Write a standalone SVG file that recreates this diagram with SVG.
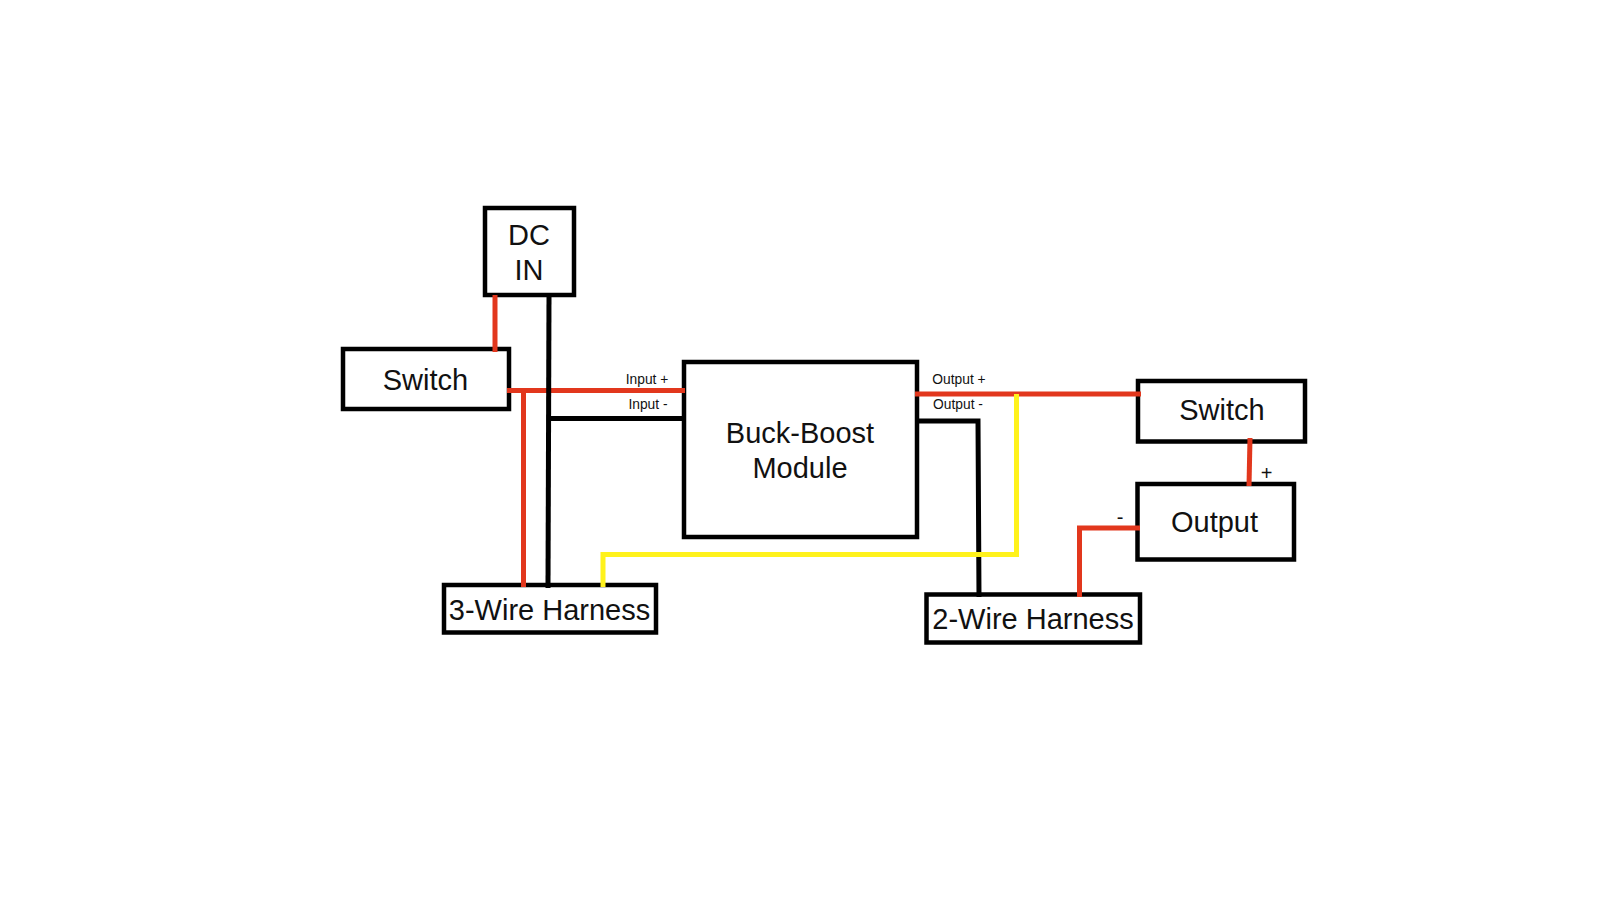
<svg xmlns="http://www.w3.org/2000/svg" width="1600" height="900" viewBox="0 0 1600 900">
<style>
.box{fill:#fff;stroke:#000;stroke-width:4.5}
text{font-family:"Liberation Sans",Arial,sans-serif;fill:#111;text-anchor:middle}
.t{font-size:29px}
.s{font-size:13.8px}
.m{font-size:20px}
.w{fill:none;stroke-width:5;stroke-linejoin:miter}
.r{stroke:#e2371d}
.k{stroke:#000}
.y{stroke:#fff21c}
</style>
<rect width="1600" height="900" fill="#fff"/>
<g id="dc-in"><rect class="box" x="485" y="208" width="89" height="87"/><text class="t" x="529" y="245">DC</text><text class="t" x="529" y="280">IN</text></g>
<g id="switch-left"><rect class="box" x="343" y="349" width="166" height="60"/><text class="t" x="425.500" y="390">Switch</text></g>
<g id="module"><rect class="box" x="684" y="362" width="233" height="175"/><text class="t" x="800" y="443">Buck-Boost</text><text class="t" x="800" y="478">Module</text></g>
<g id="harness-3"><rect class="box" x="444" y="585" width="212" height="47.500"/><text class="t" x="549.500" y="620">3-Wire Harness</text></g>
<g id="harness-2"><rect class="box" x="926.500" y="594.500" width="213.500" height="48"/><text class="t" x="1033" y="629">2-Wire Harness</text></g>
<g id="switch-right"><rect class="box" x="1138" y="381" width="167" height="60.500"/><text class="t" x="1222" y="420">Switch</text></g>
<g id="output"><rect class="box" x="1137.500" y="484" width="156.500" height="75.500"/><text class="t" x="1214.500" y="532">Output</text></g>
<g id="connectors">
<path class="w r" d="M495 295V352"/>
<path class="w r" d="M507 390.500H685"/>
<path class="w r" d="M523.500 390V587"/>
<path class="w k" d="M549 295L548 588"/>
<path class="w k" d="M547 418.500H684"/>
<path class="w k" d="M916 421H978L979 597"/>
<path class="w r" d="M915 394H1141"/>
<path class="w y" d="M603 587V554.500H1016.500V394"/>
<path class="w r" d="M1250 438L1249 486"/>
<path class="w r" d="M1140 528H1079.500V597"/>
</g>
<g id="labels">
<text class="s" x="647" y="384">Input +</text>
<text class="s" x="648" y="409">Input -</text>
<text class="s" x="959" y="384">Output +</text>
<text class="s" x="958" y="409">Output -</text>
<text class="m" x="1266.500" y="480">+</text>
<text class="m" x="1120" y="524">-</text>
</g>
</svg>
